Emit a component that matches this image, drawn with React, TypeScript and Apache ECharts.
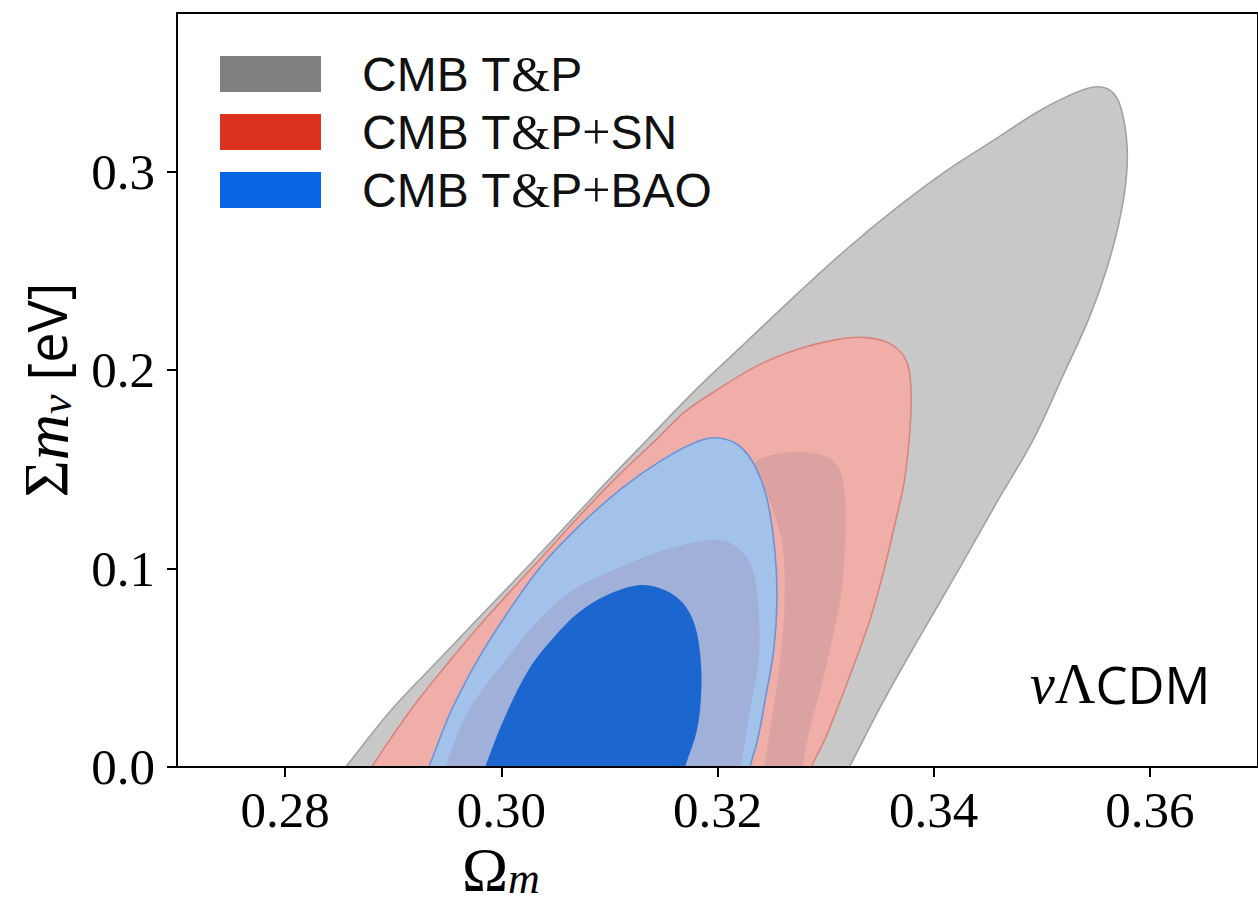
import React, { useEffect, useRef } from "react";
import * as echarts from "echarts";

// ---- tick values ----
const xTicks = [0.28, 0.3, 0.32, 0.34, 0.36];
const yTicks = [0.0, 0.1, 0.2, 0.3];

// ---- legend ----
const seriesNames = ["CMB T&P", "CMB T&P+SN", "CMB T&P+BAO"];
const legendColors = ["#808080", "#db3320", "#0866e4"];

// ---- contour outlines [Omega_m, sum m_nu] ----
const grayOuter = [
  [0.2847, -0.006], [0.2856, 0.0], [0.2898, 0.0286], [0.2942, 0.0539], [0.2979, 0.0751],
  [0.3025, 0.1013], [0.3071, 0.1281], [0.3101, 0.1457], [0.3135, 0.1649], [0.3181, 0.1907],
  [0.3227, 0.2144], [0.3273, 0.2381], [0.3319, 0.2608], [0.3365, 0.2815], [0.3411, 0.3002],
  [0.3457, 0.3164], [0.3494, 0.3295], [0.3522, 0.3376], [0.3547, 0.3426], [0.3563, 0.3411],
  [0.3573, 0.3325], [0.3579, 0.3113], [0.3576, 0.2876], [0.3564, 0.2583], [0.3545, 0.228],
  [0.352, 0.1977], [0.3492, 0.1649], [0.3457, 0.1321], [0.3423, 0.0993], [0.3388, 0.0665],
  [0.3354, 0.0337], [0.3322, 0.0], [0.3316, -0.006],
];
const redOuter = [
  [0.2873, -0.006], [0.288, 0.0], [0.2916, 0.0286], [0.2953, 0.0539], [0.2986, 0.0751],
  [0.303, 0.1013], [0.3075, 0.1281], [0.3106, 0.1457], [0.3143, 0.1649], [0.317, 0.1791],
  [0.32, 0.1902], [0.3237, 0.2023], [0.3273, 0.2103], [0.331, 0.2154], [0.3338, 0.2164],
  [0.3361, 0.2129], [0.3375, 0.2043], [0.3379, 0.1902], [0.3378, 0.17], [0.3373, 0.1447],
  [0.3365, 0.1245], [0.3354, 0.0993], [0.3341, 0.0741], [0.3326, 0.0513], [0.3312, 0.0311],
  [0.3299, 0.0135], [0.3287, 0.0], [0.3286, -0.006],
];
const redInner = [
  [0.3241, -0.006], [0.3243, 0.0], [0.325, 0.0236], [0.3258, 0.0539], [0.3262, 0.0841],
  [0.326, 0.1119], [0.3248, 0.1346], [0.3234, 0.1523], [0.325, 0.1573], [0.3276, 0.1589],
  [0.3301, 0.1563], [0.3313, 0.1498], [0.3318, 0.1346], [0.3318, 0.1119], [0.3315, 0.0892],
  [0.3307, 0.0665], [0.3295, 0.0387], [0.3284, 0.016], [0.3279, 0.0], [0.3278, -0.006],
];
const blueOuter = [
  [0.2928, -0.006], [0.2933, 0.0], [0.2953, 0.0276], [0.2977, 0.0529], [0.3005, 0.0771],
  [0.3037, 0.1013], [0.3074, 0.1225], [0.3112, 0.1407], [0.3149, 0.1548], [0.3181, 0.1639],
  [0.32, 0.1659], [0.322, 0.1619], [0.3235, 0.1513], [0.3246, 0.1346], [0.3253, 0.1094],
  [0.3255, 0.0841], [0.3252, 0.0589], [0.3244, 0.0337], [0.3237, 0.0135], [0.323, 0.0],
  [0.3228, -0.006],
];
const blueMid = [
  [0.2944, -0.006], [0.2948, 0.0], [0.297, 0.0286], [0.3009, 0.0574], [0.3039, 0.0766],
  [0.3071, 0.0907], [0.3108, 0.1003], [0.3151, 0.1094], [0.3197, 0.1144], [0.3218, 0.1109],
  [0.3232, 0.1003], [0.3238, 0.0791], [0.3238, 0.0539], [0.323, 0.0286], [0.3222, 0.0],
  [0.3221, -0.006],
];
const blueInner = [
  [0.2981, -0.006], [0.2985, 0.0], [0.3002, 0.0236], [0.3025, 0.0488], [0.3048, 0.065],
  [0.3071, 0.0776], [0.3098, 0.0867], [0.3129, 0.0917], [0.3151, 0.0892], [0.3168, 0.0826],
  [0.3179, 0.0715], [0.3184, 0.0564], [0.3185, 0.0387], [0.3181, 0.0185], [0.317, 0.0],
  [0.3168, -0.006],
];

type Poly = { pts: number[][]; fill: string; stroke?: string };

const grayPolys: Poly[] = [{ pts: grayOuter, fill: "#c8c8c8", stroke: "#a2a2a2" }];
const redPolys: Poly[] = [
  { pts: redOuter, fill: "#f0aea8", stroke: "#d8847d" },
  { pts: redInner, fill: "#dca2a1" },
];
const bluePolys: Poly[] = [
  { pts: blueOuter, fill: "#a2c2ea", stroke: "#6c93d6" },
  { pts: blueMid, fill: "#a0b0d8" },
  { pts: blueInner, fill: "#1c66d0" },
];

const serif = "Liberation Serif";
const sans = "Open Sans";
const legendSans = "Liberation Sans";

function contourSeries(name: string, polys: Poly[]) {
  return {
    type: "custom",
    name,
    coordinateSystem: "cartesian2d",
    clip: true,
    silent: true,
    data: polys.map((p) => p.pts[1]),
    renderItem: (params: any, api: any) => {
      const p = polys[params.dataIndex];
      const points = p.pts.map((pt) => api.coord(pt));
      return {
        type: "polygon",
        shape: { points, smooth: 0.35 },
        style: {
          fill: p.fill,
          stroke: p.stroke || "none",
          lineWidth: p.stroke ? 1.6 : 0,
        },
      };
    },
  };
}

export default function App() {
  const ref = useRef<HTMLDivElement>(null);
  useEffect(() => {
    if (!ref.current) return;
    const chart = echarts.init(ref.current, undefined, { renderer: "svg" });
    const richBase = {
      a: { fontFamily: legendSans, fontSize: 48, color: "#111", lineHeight: 36 },
      sym: { fontFamily: serif, fontSize: 50, color: "#111", lineHeight: 36 },
    };
    chart.setOption({
      animation: false,
      backgroundColor: "#ffffff",
      grid: {
        left: 177,
        top: 13,
        width: 1087,
        height: 754,
        show: true,
        borderColor: "#000",
        borderWidth: 2,
        backgroundColor: "transparent",
      },
      legend: {
        orient: "vertical",
        left: 220,
        top: 49,
        padding: 0,
        itemWidth: 101,
        itemHeight: 36,
        itemGap: 8,
        icon: "rect",
        selectedMode: false,
        data: seriesNames.map((n, i) => ({
          name: n,
          itemStyle: { color: legendColors[i], borderWidth: 0 },
        })),
        formatter: (name: string) =>
          "{a|" +
          name.replace(/&/g, "}{sym|&}{a|").replace(/\+/g, "}{sym|+}{a|") +
          "}",
        textStyle: {
          padding: [0, 0, 0, 36],
          lineHeight: 36,
          fontSize: 48,
          fontFamily: legendSans,
          rich: richBase,
        },
      },
      xAxis: {
        type: "value",
        min: 0.27,
        max: 0.37,
        z: 5,
        axisLine: { show: true, lineStyle: { color: "#000", width: 2 } },
        axisTick: {
          show: true,
          length: 10,
          customValues: xTicks,
          lineStyle: { color: "#000", width: 2 },
        },
        axisLabel: {
          customValues: xTicks,
          margin: 17,
          fontFamily: serif,
          fontSize: 51,
          color: "#000",
          formatter: (v: number) => v.toFixed(2),
        },
        splitLine: { show: false },
      },
      yAxis: {
        type: "value",
        min: 0,
        max: 0.38,
        z: 5,
        name: "{s|Σ}{m|m}{sub|ν}{a| [eV]}",
        nameLocation: "middle",
        nameGap: 99,
        nameRotate: 90,
        nameTextStyle: {
          rich: {
            s: { fontFamily: serif, fontSize: 64, color: "#000", lineHeight: 64 },
            m: { fontFamily: serif, fontStyle: "italic", fontSize: 64, color: "#000", lineHeight: 64 },
            sub: { fontFamily: serif, fontStyle: "italic", fontSize: 44, color: "#000", lineHeight: 34, verticalAlign: "bottom" },
            a: { fontFamily: sans, fontSize: 54, color: "#000", lineHeight: 64 },
          },
        },
        axisLine: { show: true, lineStyle: { color: "#000", width: 2 } },
        axisTick: {
          show: true,
          length: 10,
          customValues: yTicks,
          lineStyle: { color: "#000", width: 2 },
        },
        axisLabel: {
          customValues: yTicks,
          margin: 22,
          fontFamily: serif,
          fontSize: 51,
          color: "#000",
          formatter: (v: number) => v.toFixed(1),
        },
        splitLine: { show: false },
      },
      graphic: [
        {
          type: "text",
          left: 1030,
          top: 656,
          style: {
            text: "{n|ν}{l|Λ}{c|CDM}",
            rich: {
              n: { fontFamily: serif, fontStyle: "italic", fontSize: 56, fill: "#000", lineHeight: 58 },
              l: { fontFamily: serif, fontSize: 56, fill: "#000", lineHeight: 58 },
              c: { fontFamily: sans, fontSize: 51, fill: "#000", lineHeight: 58 },
            },
          },
        },
        {
          type: "text",
          left: 462,
          top: 838,
          style: {
            text: "{o|Ω}{sub|m}",
            rich: {
              o: { fontFamily: serif, fontSize: 62, fill: "#000", lineHeight: 62 },
              sub: { fontFamily: serif, fontStyle: "italic", fontSize: 44, fill: "#000", lineHeight: 32, verticalAlign: "bottom" },
            },
          },
        },
      ],
      series: [
        contourSeries(seriesNames[0], grayPolys),
        contourSeries(seriesNames[1], redPolys),
        contourSeries(seriesNames[2], bluePolys),
      ],
    });
    return () => chart.dispose();
  }, []);
  return (
    <div
      ref={ref}
      style={{ position: "absolute", left: 0, top: 0, width: 1258, height: 911, background: "#fff" }}
    />
  );
}
